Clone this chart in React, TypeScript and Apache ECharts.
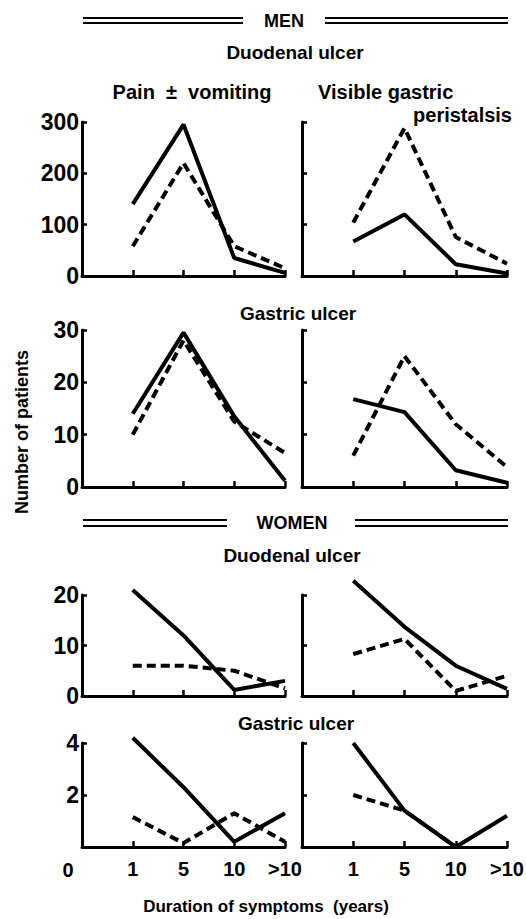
import React, { useEffect, useRef } from "react";
import * as echarts from "echarts";

// ---- data ----
const CATEGORIES = ["0", "1", "5", "10", ">10"];

const MEN_DU_PAIN_SOLID = [140, 295, 35, 6];
const MEN_DU_PAIN_DASHED = [58, 220, 58, 15];
const MEN_DU_PERI_SOLID = [67, 120, 23, 5];
const MEN_DU_PERI_DASHED = [104, 288, 76, 24];

const MEN_GU_PAIN_SOLID = [14, 29.5, 13.5, 1.2];
const MEN_GU_PAIN_DASHED = [10, 28, 12.5, 6.5];
const MEN_GU_PERI_SOLID = [16.8, 14.3, 3.2, 0.8];
const MEN_GU_PERI_DASHED = [6, 25, 12, 3.8];

const WOMEN_DU_PAIN_SOLID = [21, 12, 1.2, 3];
const WOMEN_DU_PAIN_DASHED = [6, 6, 5, 1.5];
const WOMEN_DU_PERI_SOLID = [22.8, 13.7, 6, 1.4];
const WOMEN_DU_PERI_DASHED = [8.3, 11.3, 1, 4];

const WOMEN_GU_PAIN_SOLID = [4.2, 2.3, 0.2, 1.3];
const WOMEN_GU_PAIN_DASHED = [1.15, 0.15, 1.3, 0.2];
const WOMEN_GU_PERI_SOLID = [4, 1.4, 0, 1.2];
const WOMEN_GU_PERI_DASHED = [2, 1.4, 0];

const Y_MAX = [300, 30, 20, 4];
const Y_INTERVAL = [100, 10, 10, 2];

// ---- layout ----
const COL_LEFT = [82, 302];
const COL_WIDTH = [203, 205];
const ROW_TOP = [122, 330, 595, 743];
const ROW_HEIGHT = [154, 157, 101, 104];

const FONT = '"Liberation Sans", Arial, Helvetica, sans-serif';

const PANELS = [
  { row: 0, col: 0, solid: MEN_DU_PAIN_SOLID, dashed: MEN_DU_PAIN_DASHED },
  { row: 0, col: 1, solid: MEN_DU_PERI_SOLID, dashed: MEN_DU_PERI_DASHED },
  { row: 1, col: 0, solid: MEN_GU_PAIN_SOLID, dashed: MEN_GU_PAIN_DASHED },
  { row: 1, col: 1, solid: MEN_GU_PERI_SOLID, dashed: MEN_GU_PERI_DASHED },
  { row: 2, col: 0, solid: WOMEN_DU_PAIN_SOLID, dashed: WOMEN_DU_PAIN_DASHED },
  { row: 2, col: 1, solid: WOMEN_DU_PERI_SOLID, dashed: WOMEN_DU_PERI_DASHED },
  { row: 3, col: 0, solid: WOMEN_GU_PAIN_SOLID, dashed: WOMEN_GU_PAIN_DASHED },
  { row: 3, col: 1, solid: WOMEN_GU_PERI_SOLID, dashed: WOMEN_GU_PERI_DASHED },
];

function text(x: number, y: number, t: string, size: number, align = "center", rotation = 0) {
  return {
    type: "text",
    x,
    y,
    rotation,
    silent: true,
    style: {
      text: t,
      fill: "#000",
      fontSize: size,
      fontWeight: "bold",
      fontFamily: FONT,
      textAlign: align,
      align,
      textVerticalAlign: "middle",
      verticalAlign: "middle",
    },
  };
}

function hline(x1: number, x2: number, y: number) {
  return {
    type: "line",
    silent: true,
    shape: { x1, y1: y, x2, y2: y },
    style: { stroke: "#000", lineWidth: 2 },
  };
}

export default function App() {
  const ref = useRef<HTMLDivElement>(null);

  useEffect(() => {
    if (!ref.current) return;
    const chart = echarts.init(ref.current, null, { renderer: "svg" });

    const grids: any[] = [];
    const xAxes: any[] = [];
    const yAxes: any[] = [];
    const series: any[] = [];

    PANELS.forEach((p, i) => {
      grids.push({
        left: COL_LEFT[p.col],
        top: ROW_TOP[p.row],
        width: COL_WIDTH[p.col],
        height: ROW_HEIGHT[p.row],
        containLabel: false,
        outerBoundsMode: "none",
      });
      const bottomRow = p.row === 3;
      xAxes.push({
        type: "category",
        gridIndex: i,
        data: CATEGORIES,
        boundaryGap: false,
        axisLine: { show: true, lineStyle: { color: "#000", width: 3 } },
        axisTick: { show: true, inside: true, length: 6, lineStyle: { color: "#000", width: 2.5 } },
        axisLabel: {
          show: bottomRow,
          interval: 0,
          margin: 12,
          color: "#000",
          fontSize: 20,
          fontWeight: "bold",
          fontFamily: FONT,
          formatter: (v: string) => (v === "0" ? "" : v),
        },
        splitLine: { show: false },
      });
      yAxes.push({
        type: "value",
        gridIndex: i,
        min: 0,
        max: Y_MAX[p.row],
        interval: Y_INTERVAL[p.row],
        axisLine: { show: true, lineStyle: { color: "#000", width: 3 } },
        axisTick: { show: true, inside: true, length: 5, lineStyle: { color: "#000", width: 2.5 } },
        axisLabel: {
          show: p.col === 0,
          margin: 3,
          color: "#000",
          fontSize: 23,
          fontWeight: "bold",
          fontFamily: FONT,
          formatter: (v: number) => (bottomRow && v === 0 ? "" : String(v)),
        },
        splitLine: { show: false },
      });
      const base = {
        type: "line",
        xAxisIndex: i,
        yAxisIndex: i,
        symbol: "none",
        showSymbol: false,
        clip: false,
        silent: true,
        connectNulls: false,
      };
      series.push({
        ...base,
        name: "solid" + i,
        data: [null, ...p.solid],
        lineStyle: { color: "#000", width: 4, type: "solid", cap: "butt" },
      });
      series.push({
        ...base,
        name: "dashed" + i,
        data: [null, ...p.dashed],
        lineStyle: { color: "#000", width: 4, type: [9, 5], cap: "butt" },
      });
    });

    const graphics: any[] = [
      // MEN header
      hline(83, 243, 18),
      hline(83, 243, 23),
      hline(325, 508, 18),
      hline(325, 508, 23),
      text(284, 21, "MEN", 18),
      text(295, 52, "Duodenal ulcer", 19),
      text(192, 92, "Pain  ±  vomiting", 20),
      text(318, 92, "Visible gastric", 20, "left"),
      text(512, 115, "peristalsis", 20, "right"),
      text(298, 313, "Gastric ulcer", 19),
      // WOMEN header
      hline(83, 227, 520),
      hline(83, 227, 526),
      hline(355, 508, 520),
      hline(355, 508, 526),
      text(292, 523, "WOMEN", 18),
      text(292, 555, "Duodenal ulcer", 19),
      text(296, 723, "Gastric ulcer", 19),
      // axis titles and origin label
      text(68, 870, "0", 20),
      text(22, 432, "Number of patients", 18, "center", Math.PI / 2),
      text(266, 906, "Duration of symptoms  (years)", 17),
    ];

    chart.setOption({
      animation: false,
      backgroundColor: "#fff",
      grid: grids,
      xAxis: xAxes,
      yAxis: yAxes,
      series,
      graphic: { elements: graphics },
    });

    return () => {
      chart.dispose();
    };
  }, []);

  return (
    <div
      ref={ref}
      style={{ position: "absolute", left: 0, top: 0, width: 526, height: 919, background: "#fff" }}
    />
  );
}
